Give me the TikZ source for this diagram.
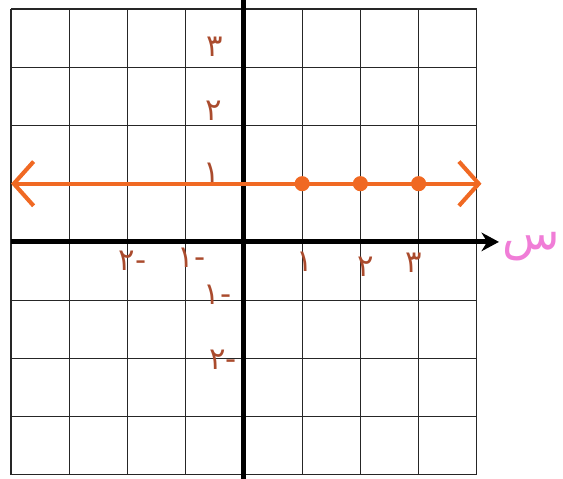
\documentclass[tikz,border=0pt]{standalone}
\usepackage{fontspec}
\usetikzlibrary{arrows.meta}
\newfontfamily\arabicfont[Script=Arabic]{DejaVu Sans}
\TeXXeTstate=1
\definecolor{penorange}{RGB}{240,105,35}
\definecolor{penbrown}{RGB}{170,75,45}
\definecolor{penpink}{RGB}{240,125,215}
\tikzset{
    ticklabel/.style={text=penbrown,font=\arabicfont\fontsize{15}{15}\selectfont,inner sep=0pt},
    gridline/.style={black!85,line width=0.6pt},
    axisline/.style={black,line width=2.4pt},
    ptdot/.style={circle,fill=penorange,inner sep=0pt,minimum size=0.26cm}
}
\begin{document}
\begin{tikzpicture}
        \useasboundingbox (-4.19,-4.07) rectangle (5.48,4.155);
        \draw [gridline] (-4,-4) grid (4,4);
        % axes
        \coordinate (xstart) at (-4,0);
        \coordinate (xend) at (4.38,0);
        \coordinate (ystart) at (0,-4.07);
        \coordinate (yend) at (0,4.155);
        \draw [axisline,-{Stealth[length=0.3cm,width=0.32cm]}] (xstart) -- (xend);
        \draw [axisline] (ystart) -- (yend);
        \node [text=penpink,font=\arabicfont\fontsize{23}{23}\selectfont,anchor=west,inner sep=0pt] (xname) at (4.44,-0.08) {\beginR س\endR};
        % the line y = 1
        \coordinate (lstart) at (-4,1);
        \coordinate (lend) at (4.08,1);
        \draw [penorange,line width=2pt,{Straight Barb[length=0.34cm,width=0.76cm]}-{Straight Barb[length=0.34cm,width=0.76cm]}] (lstart) -- (lend);
        \node [ptdot] (p1) at (1,1) {};
        \node [ptdot] (p2) at (2,1) {};
        \node [ptdot] (p3) at (3,1) {};
        % numbers
        \node [ticklabel] (yone) at (-0.55,1.19) {١};
        \node [ticklabel] (ytwo) at (-0.52,2.26) {٢};
        \node [ticklabel] (ythree) at (-0.5,3.36) {٣};
        \node [ticklabel] (ymone) at (-0.45,-0.91) {\beginR-١\endR};
        \node [ticklabel] (ymtwo) at (-0.36,-2.02) {\beginR-٢\endR};
        \node [ticklabel] (xone) at (1.05,-0.34) {١};
        \node [ticklabel] (xtwo) at (2.1,-0.43) {٢};
        \node [ticklabel] (xthree) at (2.91,-0.36) {٣};
        \node [ticklabel] (xmone) at (-0.9,-0.28) {\beginR-١\endR};
        \node [ticklabel] (xmtwo) at (-1.91,-0.33) {\beginR-٢\endR};
\end{tikzpicture}
\end{document}
